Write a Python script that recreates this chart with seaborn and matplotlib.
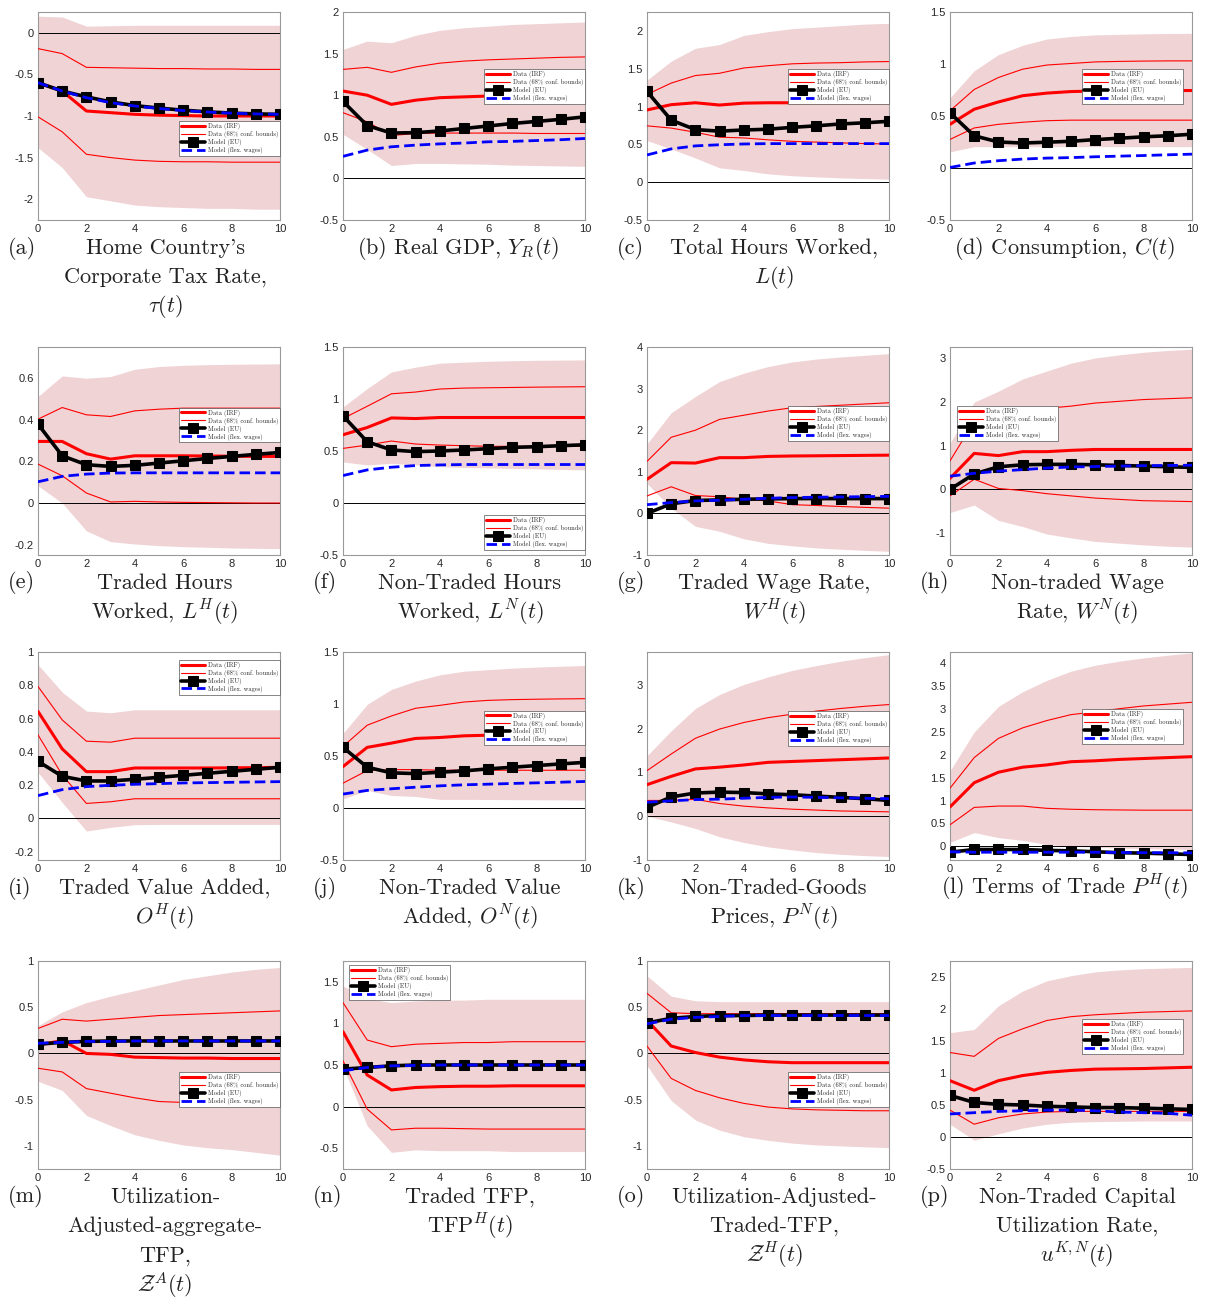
import matplotlib
matplotlib.use('Agg')
import matplotlib.pyplot as plt
from matplotlib.ticker import MultipleLocator, FuncFormatter
import seaborn as sns

horizon = list(range(11))

# (a) corporate tax rate
a_hi90 = [0.20, 0.19, 0.08, 0.085, 0.09, 0.09, 0.09, 0.09, 0.09, 0.09, 0.09]
a_lo90 = [-1.38, -1.62, -1.97, -2.02, -2.07, -2.09, -2.10, -2.11, -2.11, -2.12, -2.12]
a_hi68 = [-0.19, -0.25, -0.415, -0.42, -0.425, -0.43, -0.43, -0.435, -0.435, -0.44, -0.44]
a_lo68 = [-1.01, -1.19, -1.46, -1.50, -1.53, -1.545, -1.55, -1.55, -1.555, -1.555, -1.555]
a_irf = [-0.60, -0.70, -0.94, -0.96, -0.98, -0.99, -0.995, -1.0, -1.0, -1.0, -1.0]
a_eu = [-0.60, -0.70, -0.77, -0.83, -0.875, -0.905, -0.93, -0.95, -0.965, -0.975, -0.98]
a_flex = [-0.60, -0.70, -0.78, -0.84, -0.88, -0.91, -0.935, -0.952, -0.966, -0.975, -0.98]

# (b) real GDP
b_hi90 = [1.55, 1.65, 1.63, 1.72, 1.78, 1.81, 1.83, 1.85, 1.86, 1.87, 1.88]
b_lo90 = [0.53, 0.35, 0.155, 0.18, 0.18, 0.175, 0.17, 0.16, 0.155, 0.15, 0.145]
b_hi68 = [1.31, 1.335, 1.275, 1.34, 1.385, 1.41, 1.425, 1.435, 1.445, 1.455, 1.46]
b_lo68 = [0.79, 0.68, 0.515, 0.54, 0.545, 0.545, 0.545, 0.545, 0.54, 0.54, 0.54]
b_irf = [1.05, 1.0, 0.89, 0.94, 0.97, 0.98, 0.99, 0.99, 0.99, 0.99, 0.99]
b_eu = [0.925, 0.635, 0.545, 0.55, 0.57, 0.6, 0.63, 0.66, 0.685, 0.71, 0.74]
b_flex = [0.265, 0.34, 0.38, 0.40, 0.415, 0.425, 0.44, 0.445, 0.455, 0.465, 0.48]

# (c) total hours
c_hi90 = [1.35, 1.6, 1.77, 1.82, 1.94, 1.99, 2.03, 2.05, 2.07, 2.09, 2.1]
c_lo90 = [0.55, 0.44, 0.32, 0.19, 0.155, 0.11, 0.085, 0.07, 0.057, 0.048, 0.04]
c_hi68 = [1.16, 1.31, 1.41, 1.44, 1.51, 1.54, 1.565, 1.575, 1.58, 1.59, 1.595]
c_lo68 = [0.745, 0.715, 0.66, 0.595, 0.585, 0.56, 0.54, 0.53, 0.52, 0.51, 0.505]
c_irf = [0.955, 1.025, 1.05, 1.02, 1.045, 1.05, 1.05, 1.05, 1.05, 1.05, 1.05]
c_eu = [1.2, 0.82, 0.695, 0.675, 0.69, 0.70, 0.725, 0.745, 0.77, 0.785, 0.805]
c_flex = [0.36, 0.44, 0.48, 0.495, 0.505, 0.51, 0.51, 0.51, 0.51, 0.51, 0.51]

# (d) consumption
d_hi90 = [0.675, 0.935, 1.09, 1.18, 1.24, 1.265, 1.28, 1.285, 1.29, 1.293, 1.295]
d_lo90 = [0.155, 0.205, 0.205, 0.205, 0.205, 0.205, 0.205, 0.205, 0.205, 0.205, 0.205]
d_hi68 = [0.55, 0.755, 0.87, 0.95, 0.99, 1.005, 1.02, 1.025, 1.028, 1.03, 1.03]
d_lo68 = [0.275, 0.385, 0.42, 0.44, 0.455, 0.46, 0.46, 0.46, 0.46, 0.46, 0.46]
d_irf = [0.42, 0.565, 0.635, 0.695, 0.72, 0.735, 0.74, 0.742, 0.744, 0.745, 0.745]
d_eu = [0.53, 0.31, 0.25, 0.24, 0.248, 0.257, 0.273, 0.286, 0.30, 0.31, 0.325]
d_flex = [0.005, 0.048, 0.07, 0.086, 0.095, 0.10, 0.108, 0.114, 0.12, 0.127, 0.133]

# (e) traded hours
e_hi90 = [0.512, 0.611, 0.60, 0.608, 0.643, 0.656, 0.662, 0.665, 0.667, 0.668, 0.669]
e_lo90 = [0.083, 0.0, -0.134, -0.186, -0.197, -0.205, -0.21, -0.213, -0.216, -0.218, -0.219]
e_hi68 = [0.403, 0.459, 0.424, 0.416, 0.443, 0.451, 0.456, 0.456, 0.456, 0.456, 0.456]
e_lo68 = [0.187, 0.131, 0.048, 0.005, 0.008, 0.005, 0.003, 0.002, 0.001, 0.0, 0.0]
e_irf = [0.296, 0.296, 0.237, 0.211, 0.227, 0.227, 0.227, 0.226, 0.225, 0.224, 0.224]
e_eu = [0.379, 0.227, 0.184, 0.176, 0.181, 0.192, 0.203, 0.214, 0.224, 0.234, 0.243]
e_flex = [0.102, 0.128, 0.139, 0.144, 0.145, 0.145, 0.145, 0.145, 0.145, 0.145, 0.145]

# (f) non-traded hours
f_hi90 = [0.924, 1.10, 1.26, 1.306, 1.344, 1.354, 1.363, 1.368, 1.372, 1.374, 1.376]
f_lo90 = [0.395, 0.366, 0.382, 0.366, 0.35, 0.341, 0.338, 0.333, 0.328, 0.323, 0.318]
f_hi68 = [0.812, 0.93, 1.05, 1.067, 1.096, 1.105, 1.108, 1.111, 1.114, 1.116, 1.118]
f_lo68 = [0.525, 0.557, 0.596, 0.567, 0.557, 0.551, 0.545, 0.545, 0.545, 0.545, 0.545]
f_irf = [0.656, 0.726, 0.818, 0.812, 0.822, 0.822, 0.822, 0.822, 0.822, 0.822, 0.822]
f_eu = [0.838, 0.589, 0.51, 0.494, 0.50, 0.51, 0.522, 0.535, 0.541, 0.551, 0.56]
f_flex = [0.264, 0.318, 0.344, 0.36, 0.366, 0.37, 0.37, 0.37, 0.37, 0.37, 0.37]

# (g) traded wage
g_hi90 = [1.67, 2.42, 2.81, 3.17, 3.37, 3.53, 3.64, 3.71, 3.76, 3.80, 3.84]
g_lo90 = [0.72, 0.126, -0.31, -0.43, -0.61, -0.72, -0.78, -0.83, -0.86, -0.89, -0.91]
g_hi68 = [1.25, 1.83, 2.0, 2.26, 2.36, 2.46, 2.54, 2.57, 2.6, 2.63, 2.66]
g_lo68 = [0.42, 0.64, 0.43, 0.40, 0.34, 0.30, 0.21, 0.19, 0.166, 0.145, 0.126]
g_irf = [0.82, 1.22, 1.21, 1.34, 1.34, 1.37, 1.38, 1.385, 1.39, 1.395, 1.40]
g_eu = [0.0, 0.23, 0.31, 0.324, 0.34, 0.348, 0.356, 0.356, 0.356, 0.356, 0.356]
g_flex = [0.21, 0.26, 0.30, 0.316, 0.34, 0.364, 0.38, 0.39, 0.395, 0.403, 0.41]

# (h) non-traded wage
h_hi90 = [1.05, 1.99, 2.24, 2.52, 2.70, 2.88, 3.0, 3.07, 3.13, 3.17, 3.20]
h_lo90 = [-0.53, -0.36, -0.71, -0.85, -1.02, -1.11, -1.19, -1.23, -1.27, -1.30, -1.32]
h_hi68 = [0.65, 1.55, 1.70, 1.80, 1.85, 1.90, 1.97, 2.01, 2.05, 2.07, 2.09]
h_lo68 = [-0.15, 0.23, 0.02, -0.03, -0.10, -0.15, -0.20, -0.23, -0.26, -0.27, -0.28]
h_irf = [0.25, 0.82, 0.77, 0.86, 0.86, 0.89, 0.91, 0.91, 0.91, 0.91, 0.91]
h_eu = [0.0, 0.35, 0.515, 0.56, 0.57, 0.57, 0.56, 0.545, 0.53, 0.515, 0.50]
h_flex = [0.30, 0.365, 0.415, 0.45, 0.485, 0.51, 0.52, 0.53, 0.54, 0.545, 0.55]

# (i) traded value added
i_hi90 = [0.924, 0.759, 0.645, 0.635, 0.653, 0.653, 0.653, 0.653, 0.653, 0.653, 0.653]
i_lo90 = [0.277, 0.096, -0.076, -0.054, -0.038, -0.036, -0.036, -0.036, -0.036, -0.036, -0.036]
i_hi68 = [0.793, 0.592, 0.464, 0.458, 0.482, 0.482, 0.482, 0.482, 0.482, 0.482, 0.482]
i_lo68 = [0.502, 0.261, 0.09, 0.10, 0.118, 0.118, 0.118, 0.118, 0.118, 0.118, 0.118]
i_irf = [0.643, 0.418, 0.281, 0.281, 0.303, 0.303, 0.303, 0.303, 0.304, 0.305, 0.307]
i_eu = [0.343, 0.253, 0.225, 0.225, 0.235, 0.247, 0.259, 0.271, 0.283, 0.295, 0.307]
i_flex = [0.137, 0.173, 0.191, 0.199, 0.205, 0.209, 0.213, 0.215, 0.217, 0.219, 0.221]

# (j) non-traded value added
j_hi90 = [0.717, 0.997, 1.14, 1.22, 1.28, 1.315, 1.33, 1.345, 1.355, 1.363, 1.37]
j_lo90 = [0.089, 0.169, 0.121, 0.111, 0.083, 0.083, 0.082, 0.08, 0.079, 0.078, 0.076]
j_hi68 = [0.592, 0.796, 0.885, 0.959, 0.987, 1.019, 1.035, 1.042, 1.046, 1.049, 1.051]
j_lo68 = [0.239, 0.36, 0.369, 0.369, 0.363, 0.363, 0.363, 0.363, 0.363, 0.363, 0.363]
j_irf = [0.398, 0.583, 0.624, 0.669, 0.678, 0.694, 0.70, 0.703, 0.705, 0.706, 0.707]
j_eu = [0.583, 0.392, 0.338, 0.331, 0.344, 0.357, 0.376, 0.392, 0.408, 0.424, 0.439]
j_flex = [0.134, 0.169, 0.185, 0.20, 0.213, 0.223, 0.229, 0.236, 0.242, 0.248, 0.255]

# (k) non-traded goods prices
k_hi90 = [1.38, 1.95, 2.46, 2.78, 3.01, 3.18, 3.33, 3.44, 3.54, 3.62, 3.69]
k_lo90 = [0.0, -0.13, -0.28, -0.47, -0.60, -0.70, -0.77, -0.83, -0.87, -0.90, -0.92]
k_hi68 = [1.04, 1.42, 1.78, 1.99, 2.14, 2.25, 2.33, 2.40, 2.46, 2.51, 2.55]
k_lo68 = [0.36, 0.36, 0.385, 0.29, 0.23, 0.19, 0.16, 0.14, 0.12, 0.11, 0.10]
k_irf = [0.72, 0.91, 1.08, 1.12, 1.17, 1.23, 1.25, 1.27, 1.29, 1.31, 1.33]
k_eu = [0.20, 0.44, 0.53, 0.55, 0.54, 0.51, 0.49, 0.46, 0.43, 0.40, 0.36]
k_flex = [0.32, 0.35, 0.38, 0.39, 0.41, 0.43, 0.44, 0.43, 0.42, 0.41, 0.40]

# (l) terms of trade
l_hi90 = [1.65, 2.5, 3.06, 3.38, 3.63, 3.83, 3.96, 4.05, 4.12, 4.18, 4.23]
l_lo90 = [0.086, 0.30, 0.19, 0.13, 0.04, 0.0, -0.02, -0.04, -0.05, -0.06, -0.07]
l_hi68 = [1.27, 1.94, 2.36, 2.59, 2.75, 2.88, 2.94, 3.01, 3.07, 3.11, 3.15]
l_lo68 = [0.47, 0.85, 0.88, 0.88, 0.83, 0.81, 0.80, 0.795, 0.79, 0.79, 0.79]
l_irf = [0.86, 1.39, 1.62, 1.73, 1.78, 1.85, 1.87, 1.90, 1.92, 1.94, 1.96]
l_eu = [-0.13, -0.07, -0.07, -0.07, -0.09, -0.10, -0.12, -0.14, -0.15, -0.165, -0.18]
l_flex = [-0.12, -0.13, -0.13, -0.13, -0.13, -0.13, -0.13, -0.135, -0.14, -0.14, -0.145]

# (m) utilization-adjusted aggregate TFP
m_hi90 = [0.30, 0.45, 0.55, 0.62, 0.68, 0.74, 0.80, 0.84, 0.88, 0.91, 0.93]
m_lo90 = [-0.30, -0.40, -0.67, -0.78, -0.88, -0.94, -0.99, -1.02, -1.04, -1.07, -1.10]
m_hi68 = [0.27, 0.37, 0.35, 0.37, 0.39, 0.41, 0.42, 0.43, 0.44, 0.45, 0.46]
m_lo68 = [-0.16, -0.20, -0.38, -0.43, -0.48, -0.52, -0.53, -0.54, -0.55, -0.555, -0.56]
m_irf = [0.09, 0.14, 0.0, -0.01, -0.04, -0.045, -0.05, -0.05, -0.055, -0.055, -0.055]
m_eu = [0.10, 0.12, 0.13, 0.135, 0.135, 0.135, 0.135, 0.135, 0.135, 0.135, 0.135]
m_flex = [0.11, 0.12, 0.13, 0.13, 0.135, 0.135, 0.135, 0.135, 0.135, 0.135, 0.135]

# (n) traded TFP
n_hi90 = [1.45, 1.30, 1.25, 1.27, 1.28, 1.28, 1.29, 1.29, 1.29, 1.29, 1.29]
n_lo90 = [0.48, -0.23, -0.55, -0.52, -0.53, -0.53, -0.53, -0.54, -0.54, -0.54, -0.54]
n_hi68 = [1.25, 0.80, 0.72, 0.75, 0.76, 0.77, 0.77, 0.78, 0.78, 0.78, 0.78]
n_lo68 = [0.55, -0.03, -0.28, -0.26, -0.26, -0.265, -0.27, -0.27, -0.27, -0.27, -0.27]
n_irf = [0.90, 0.38, 0.20, 0.23, 0.24, 0.245, 0.245, 0.25, 0.25, 0.25, 0.25]
n_eu = [0.45, 0.47, 0.49, 0.50, 0.50, 0.50, 0.50, 0.50, 0.50, 0.50, 0.50]
n_flex = [0.43, 0.47, 0.49, 0.495, 0.50, 0.50, 0.50, 0.50, 0.50, 0.50, 0.50]

# (o) utilization-adjusted traded TFP
o_hi90 = [0.84, 0.62, 0.57, 0.56, 0.56, 0.56, 0.56, 0.56, 0.56, 0.56, 0.56]
o_lo90 = [-0.13, -0.51, -0.72, -0.83, -0.90, -0.94, -0.97, -0.99, -1.0, -1.01, -1.02]
o_hi68 = [0.65, 0.44, 0.43, 0.43, 0.43, 0.43, 0.43, 0.43, 0.43, 0.43, 0.43]
o_lo68 = [0.08, -0.27, -0.40, -0.48, -0.54, -0.58, -0.60, -0.61, -0.615, -0.62, -0.62]
o_irf = [0.36, 0.08, 0.01, -0.04, -0.07, -0.09, -0.10, -0.10, -0.10, -0.10, -0.10]
o_eu = [0.33, 0.38, 0.40, 0.41, 0.41, 0.415, 0.415, 0.415, 0.415, 0.415, 0.415]
o_flex = [0.32, 0.37, 0.39, 0.40, 0.41, 0.41, 0.41, 0.41, 0.41, 0.41, 0.41]

# (p) non-traded capital utilization
p_hi90 = [1.63, 1.68, 2.05, 2.28, 2.44, 2.52, 2.58, 2.61, 2.63, 2.64, 2.65]
p_lo90 = [0.20, -0.05, 0.05, 0.14, 0.20, 0.23, 0.24, 0.245, 0.25, 0.25, 0.25]
p_hi68 = [1.32, 1.26, 1.54, 1.69, 1.82, 1.88, 1.91, 1.93, 1.95, 1.96, 1.97]
p_lo68 = [0.42, 0.20, 0.30, 0.36, 0.39, 0.40, 0.40, 0.40, 0.40, 0.40, 0.40]
p_irf = [0.88, 0.73, 0.88, 0.96, 1.01, 1.04, 1.06, 1.065, 1.07, 1.08, 1.09]
p_eu = [0.65, 0.54, 0.51, 0.50, 0.48, 0.47, 0.46, 0.46, 0.45, 0.44, 0.43]
p_flex = [0.36, 0.38, 0.40, 0.41, 0.42, 0.42, 0.41, 0.39, 0.38, 0.37, 0.34]

legend_labels = ['Data (IRF)', 'Data (68% conf. bounds)', 'Model (EU)', 'Model (flex. wages)']

sub_labels = ['(a)', '(b)', '(c)', '(d)', '(e)', '(f)', '(g)', '(h)',
              '(i)', '(j)', '(k)', '(l)', '(m)', '(n)', '(o)', '(p)']
captions = [
    ["Home Country's", "Corporate Tax Rate,", r"$\tau(t)$"],
    [r"Real GDP, $Y_R(t)$"],
    ["Total Hours Worked,", r"$L(t)$"],
    [r"Consumption, $C(t)$"],
    ["Traded Hours", r"Worked, $L^H(t)$"],
    ["Non-Traded Hours", r"Worked, $L^N(t)$"],
    ["Traded Wage Rate,", r"$W^H(t)$"],
    ["Non-traded Wage", r"Rate, $W^N(t)$"],
    ["Traded Value Added,", r"$O^H(t)$"],
    ["Non-Traded Value", r"Added, $O^N(t)$"],
    ["Non-Traded-Goods", r"Prices, $P^N(t)$"],
    [r"Terms of Trade $P^H(t)$"],
    ["Utilization-", "Adjusted-aggregate-", "TFP,", r"$\mathcal{Z}^A(t)$"],
    ["Traded TFP,", r"$\mathrm{TFP}^H(t)$"],
    ["Utilization-Adjusted-", "Traded-TFP,", r"$\mathcal{Z}^H(t)$"],
    ["Non-Traded Capital", "Utilization Rate,", r"$u^{K,N}(t)$"],
]

panels = [
    (a_hi90, a_lo90, a_hi68, a_lo68, a_irf, a_eu, a_flex),
    (b_hi90, b_lo90, b_hi68, b_lo68, b_irf, b_eu, b_flex),
    (c_hi90, c_lo90, c_hi68, c_lo68, c_irf, c_eu, c_flex),
    (d_hi90, d_lo90, d_hi68, d_lo68, d_irf, d_eu, d_flex),
    (e_hi90, e_lo90, e_hi68, e_lo68, e_irf, e_eu, e_flex),
    (f_hi90, f_lo90, f_hi68, f_lo68, f_irf, f_eu, f_flex),
    (g_hi90, g_lo90, g_hi68, g_lo68, g_irf, g_eu, g_flex),
    (h_hi90, h_lo90, h_hi68, h_lo68, h_irf, h_eu, h_flex),
    (i_hi90, i_lo90, i_hi68, i_lo68, i_irf, i_eu, i_flex),
    (j_hi90, j_lo90, j_hi68, j_lo68, j_irf, j_eu, j_flex),
    (k_hi90, k_lo90, k_hi68, k_lo68, k_irf, k_eu, k_flex),
    (l_hi90, l_lo90, l_hi68, l_lo68, l_irf, l_eu, l_flex),
    (m_hi90, m_lo90, m_hi68, m_lo68, m_irf, m_eu, m_flex),
    (n_hi90, n_lo90, n_hi68, n_lo68, n_irf, n_eu, n_flex),
    (o_hi90, o_lo90, o_hi68, o_lo68, o_irf, o_eu, o_flex),
    (p_hi90, p_lo90, p_hi68, p_lo68, p_irf, p_eu, p_flex),
]

# axis ranges / tick steps per panel
ylims = [(-2.25, 0.25), (-0.5, 2), (-0.5, 2.25), (-0.5, 1.5),
         (-0.25, 0.75), (-0.5, 1.5), (-1, 4), (-1.5, 3.25),
         (-0.25, 1.0), (-0.5, 1.5), (-1, 3.75), (-0.3, 4.25),
         (-1.25, 1.0), (-0.75, 1.75), (-1.25, 1.0), (-0.5, 2.75)]
ysteps = [0.5, 0.5, 0.5, 0.5, 0.2, 0.5, 1, 1, 0.2, 0.5, 1, 0.5, 0.5, 0.5, 0.5, 0.5]
# legend placement (loc, anchor in axes fraction)
leg_pos = [('upper right', (1.0, 0.476)), ('upper right', (1.0, 0.726)),
           ('upper right', (1.0, 0.726)), ('upper right', (0.963, 0.726)),
           ('upper right', (1.0, 0.708)), ('lower right', (1.0, 0.024)),
           ('upper right', (1.0, 0.714)), ('upper left', (0.03, 0.714)),
           ('upper right', (1.0, 0.962)), ('upper right', (1.0, 0.718)),
           ('upper right', (1.0, 0.716)), ('upper right', (0.963, 0.724)),
           ('upper right', (1.0, 0.466)), ('upper left', (0.025, 0.98)),
           ('upper right', (1.0, 0.466)), ('upper right', (0.963, 0.72))]

W, H = 1208, 1298
col_left = [38, 343, 647, 950]
row_top = [12, 347, 652, 961]
ax_w, ax_h = 242, 208

sns.set_style('white')
plt.rcParams['font.family'] = ['Liberation Sans', 'DejaVu Sans']
plt.rcParams['mathtext.fontset'] = 'cm'
plt.rcParams['axes.unicode_minus'] = False

band_color = '#f0d3d5'
fig = plt.figure(figsize=(W / 100, H / 100), dpi=100)

for idx, (hi90, lo90, hi68, lo68, irf, eu, flex) in enumerate(panels):
    r, c = divmod(idx, 4)
    left, top = col_left[c], row_top[r]
    ax = fig.add_axes([left / W, 1 - (top + ax_h) / H, ax_w / W, ax_h / H])

    ax.fill_between(horizon, lo90, hi90, color=band_color, lw=0, zorder=1)
    ax.axhline(0, color='black', lw=0.7, zorder=2)
    sns.lineplot(x=horizon, y=irf, ax=ax, color='red', lw=2.2,
                 label=legend_labels[0], legend=False, zorder=3)
    sns.lineplot(x=horizon, y=hi68, ax=ax, color='red', lw=0.8,
                 label=legend_labels[1], legend=False, zorder=3)
    sns.lineplot(x=horizon, y=lo68, ax=ax, color='red', lw=0.8,
                 legend=False, zorder=3)
    sns.lineplot(x=horizon, y=eu, ax=ax, color='black', lw=2.6, marker='s',
                 markersize=6.5, markeredgecolor='black', markerfacecolor='black',
                 label=legend_labels[2], legend=False, zorder=4)
    sns.lineplot(x=horizon, y=flex, ax=ax, color='blue', lw=2.0,
                 linestyle=(0, (3.8, 1.8)), label=legend_labels[3],
                 legend=False, zorder=5)

    ax.set_xlim(0, 10)
    ax.set_ylim(*ylims[idx])
    ax.xaxis.set_major_locator(MultipleLocator(2))
    ax.yaxis.set_major_locator(MultipleLocator(ysteps[idx]))
    fmt = FuncFormatter(lambda v, p: f'{round(v, 6) + 0.0:g}')
    ax.xaxis.set_major_formatter(fmt)
    ax.yaxis.set_major_formatter(fmt)
    ax.tick_params(axis='both', direction='in', length=3, width=0.6,
                   color='#555555', labelsize=8, labelcolor='#262626', pad=3)
    ax.set_xlabel('')
    ax.set_ylabel('')
    for sp in ax.spines.values():
        sp.set_color('#9a9a9a')
        sp.set_linewidth(0.8)

    handles, labels = ax.get_legend_handles_labels()
    loc, anchor = leg_pos[idx]
    leg = ax.legend(handles, labels, loc=loc, bbox_to_anchor=anchor,
                    prop={'family': 'cmr10', 'size': 4.6}, frameon=True,
                    fancybox=False, edgecolor='#555555', framealpha=1,
                    handlelength=3.7, borderpad=0.3, labelspacing=0.15,
                    handletextpad=0.5, borderaxespad=0, numpoints=1)
    leg.get_frame().set_linewidth(0.5)
    leg.set_zorder(10)

    # caption under the panel
    y0 = top + ax_h + 28
    lines = captions[idx]
    if len(lines) == 1:
        fig.text((left + ax_w / 2 - 6) / W, 1 - y0 / H,
                 sub_labels[idx] + ' ' + lines[0], ha='center', va='center',
                 fontsize=16, family='cmr10', color='#222222')
    else:
        fig.text((left - 30) / W, 1 - y0 / H, sub_labels[idx], ha='left',
                 va='center', fontsize=16, family='cmr10', color='#222222')
        for k, line in enumerate(lines):
            fig.text((left + ax_w / 2 + 6) / W, 1 - (y0 + 29.5 * k) / H, line,
                     ha='center', va='center', fontsize=16, family='cmr10',
                     color='#222222')

fig.savefig('out.png', dpi=100)
